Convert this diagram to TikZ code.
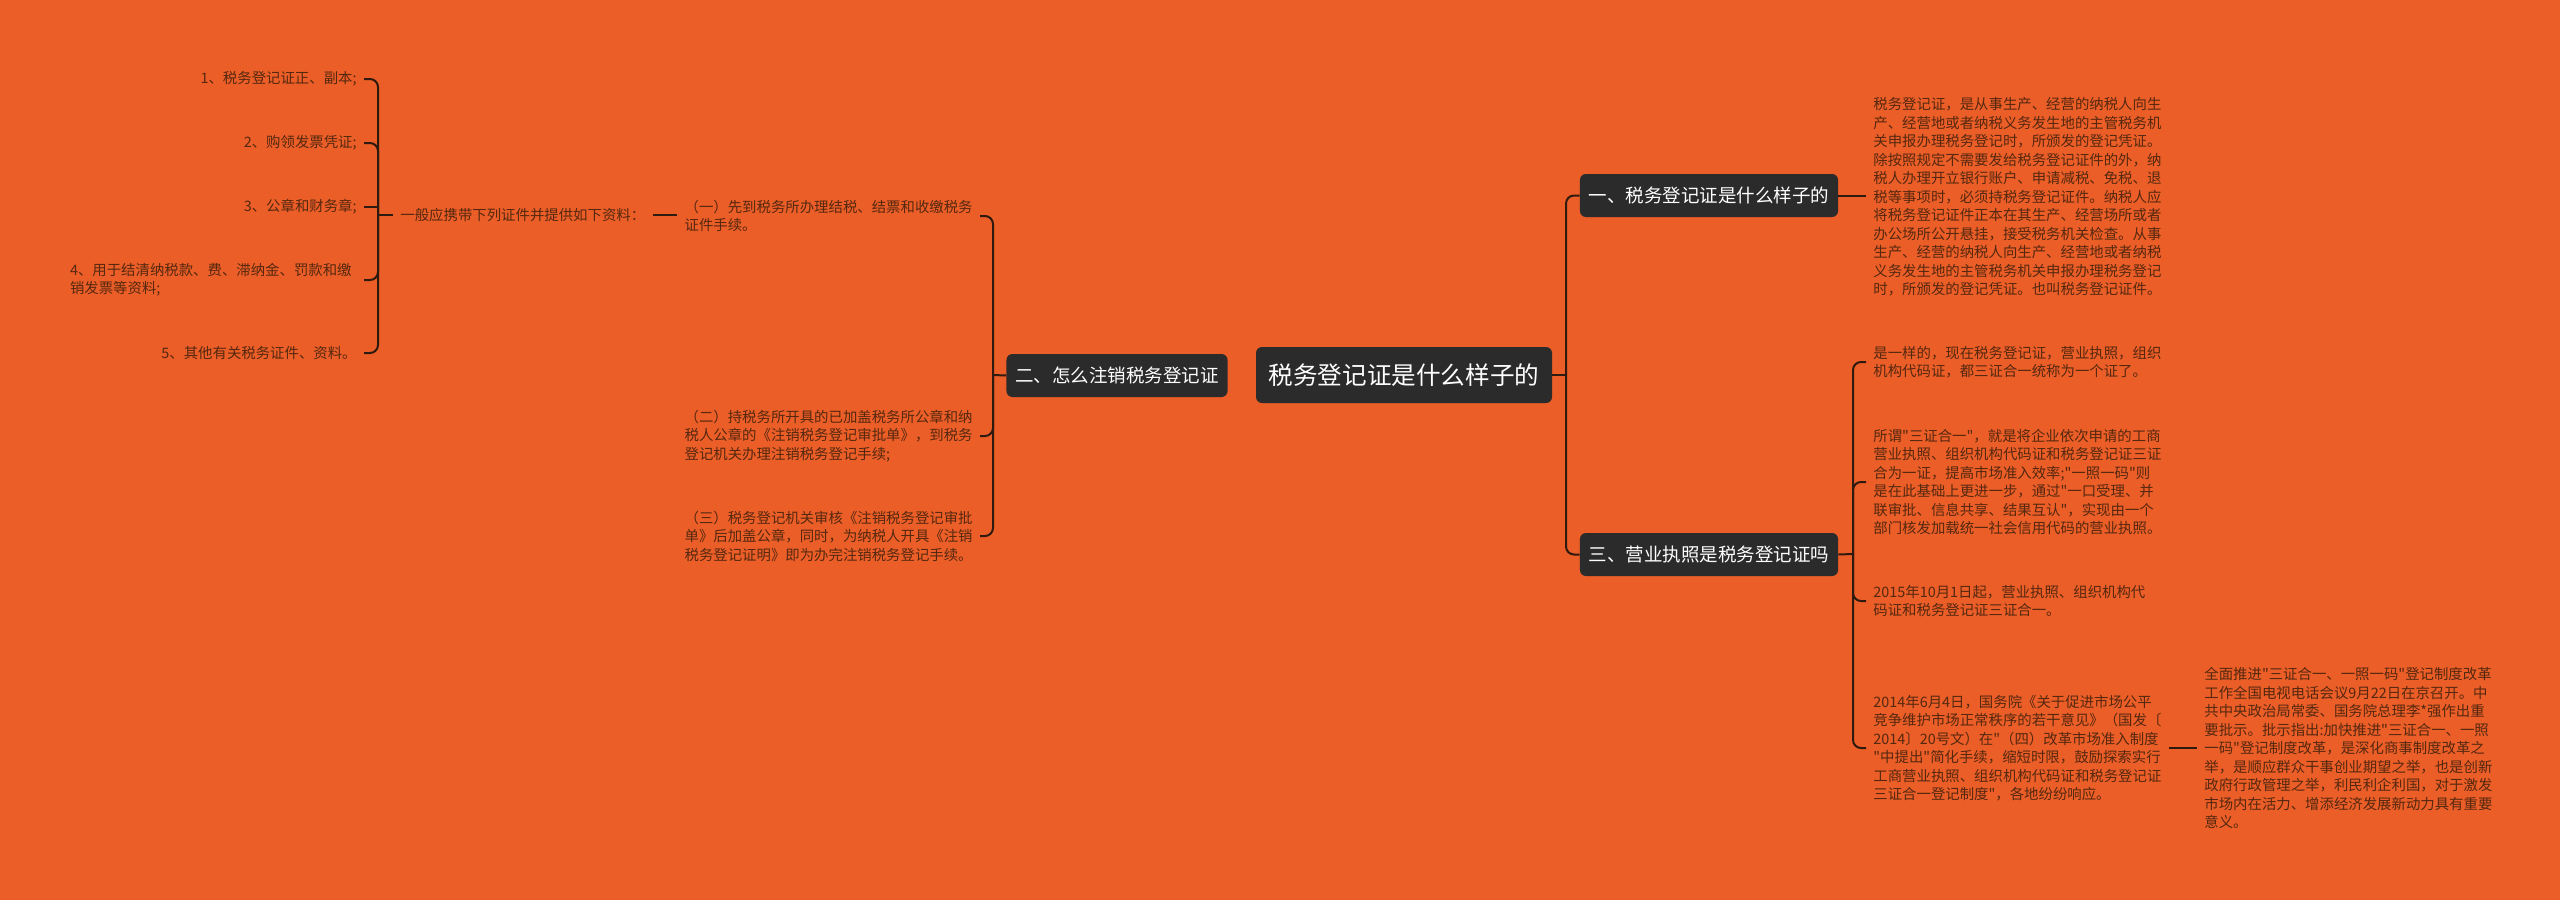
\documentclass[tikz,border=0pt]{standalone}
\usepackage{fontspec}
\newfontfamily\zhfont{Noto Sans CJK SC}
\usepackage{xcolor}

\definecolor{bgorange}{HTML}{EB5E28}
\definecolor{nodedark}{HTML}{2B2B2B}
\definecolor{linkdark}{HTML}{2E1A0E}
\definecolor{leaftext}{HTML}{55280F}

\begin{document}
\begin{tikzpicture}[
    x=0.5pt, y=-0.5pt,
    root/.style={fill=nodedark, text=white, rounded corners=3pt, minimum width=148pt, minimum height=28pt, font=\zhfont\fontsize{12.3}{14}\selectfont},
    topic/.style={fill=nodedark, text=white, rounded corners=3pt, inner xsep=4.4pt, minimum height=21.5pt, font=\zhfont\fontsize{9.25}{11}\selectfont},
    leaf/.style={text=leaftext, align=left, inner xsep=3.5pt, inner ysep=0pt, font=\zhfont\fontsize{7.2}{9.25}\selectfont},
    link/.style={draw=linkdark, line width=1pt, rounded corners=4pt},
]
    % Background
    \fill[bgorange] (0,0) rectangle (2560,900);

    % Main topics
    \node[root] (root) at (1404,375) {税务登记证是什么样子的};
    \node[topic] (one) at (1709,195.5) {一、税务登记证是什么样子的};
    \node[topic] (two) at (1117,375.5) {二、怎么注销税务登记证};
    \node[topic] (three) at (1709,554.5) {三、营业执照是税务登记证吗};

    \coordinate (rt) at (1566,375);
    \draw[link] (root.east) -- (rt);
    \draw[link] (rt) |- (one.west);
    \draw[link] (rt) |- (three.west);

    % Branch one
    \node[leaf, anchor=west] (def) at (1866,197) {税务登记证，是从事生产、经营的纳税人向生\\产、经营地或者纳税义务发生地的主管税务机\\关申报办理税务登记时，所颁发的登记凭证。\\除按照规定不需要发给税务登记证件的外，纳\\税人办理开立银行账户、申请减税、免税、退\\税等事项时，必须持税务登记证件。纳税人应\\将税务登记证件正本在其生产、经营场所或者\\办公场所公开悬挂，接受税务机关检查。从事\\生产、经营的纳税人向生产、经营地或者纳税\\义务发生地的主管税务机关申报办理税务登记\\时，所颁发的登记凭证。也叫税务登记证件。};
    \draw[link] (one.east) -- (one.east -| def.west);

    % Branch two
    \coordinate (lb) at (993,375);
    \draw[link] (two.west) -- (lb);
    \node[leaf, anchor=east] (stepa) at (980,216) {（一）先到税务所办理结税、结票和收缴税务\\证件手续。};
    \node[leaf, anchor=east] (stepb) at (980,436) {（二）持税务所开具的已加盖税务所公章和纳\\税人公章的《注销税务登记审批单》，到税务\\登记机关办理注销税务登记手续;};
    \node[leaf, anchor=east] (stepc) at (980,536) {（三）税务登记机关审核《注销税务登记审批\\单》后加盖公章，同时，为纳税人开具《注销\\税务登记证明》即为办完注销税务登记手续。};
    \foreach \s in {stepa,stepb,stepc}
        \draw[link] (lb) |- (\s.east);

    \node[leaf, anchor=west] (need) at (393,215) {一般应携带下列证件并提供如下资料：};
    \draw[link] (stepa.west |- need.east) -- (need.east);

    % Documents list
    \node[leaf, anchor=east] (doca) at (364,79) {1、税务登记证正、副本;};
    \node[leaf, anchor=east] (docb) at (364,143) {2、购领发票凭证;};
    \node[leaf, anchor=east] (docc) at (364,207) {3、公章和财务章;};
    \node[leaf, anchor=east] (docd) at (359,280) {4、用于结清纳税款、费、滞纳金、罚款和缴\\销发票等资料;};
    \node[leaf, anchor=east] (doce) at (364,353) {5、其他有关税务证件、资料。};

    \coordinate (brk) at (378,215);
    \draw[link] (need.west) -- (brk);
    \draw[link] (doca.east) -| (brk) |- (doce.east);
    \draw[link] (docb.east) -| (brk);
    \draw[link] (docd.east -| doca.east) -| (brk);
    \draw[link] (docc.east) -- (docc.east -| brk);

    % Branch three
    \coordinate (rb) at (1853,554);
    \draw[link] (three.east) -- (rb);
    \node[leaf, anchor=west] (same) at (1866,362) {是一样的，现在税务登记证，营业执照，组织\\机构代码证，都三证合一统称为一个证了。};
    \node[leaf, anchor=west] (merge) at (1866,482) {所谓"三证合一"，就是将企业依次申请的工商\\营业执照、组织机构代码证和税务登记证三证\\合为一证，提高市场准入效率;"一照一码"则\\是在此基础上更进一步，通过"一口受理、并\\联审批、信息共享、结果互认"，实现由一个\\部门核发加载统一社会信用代码的营业执照。};
    \node[leaf, anchor=west] (date) at (1866,601) {2015年10月1日起，营业执照、组织机构代\\码证和税务登记证三证合一。};
    \node[leaf, anchor=west] (policy) at (1866,748) {2014年6月4日，国务院《关于促进市场公平\\竞争维护市场正常秩序的若干意见》（国发〔\\2014〕20号文）在"（四）改革市场准入制度\\"中提出"简化手续，缩短时限，鼓励探索实行\\工商营业执照、组织机构代码证和税务登记证\\三证合一登记制度"，各地纷纷响应。};
    \foreach \t in {same,merge,date,policy}
        \draw[link] (rb) |- (\t.west);

    \node[leaf, anchor=west] (meeting) at (2197,748) {全面推进"三证合一、一照一码"登记制度改革\\工作全国电视电话会议9月22日在京召开。中\\共中央政治局常委、国务院总理李*强作出重\\要批示。批示指出:加快推进"三证合一、一照\\一码"登记制度改革，是深化商事制度改革之\\举，是顺应群众干事创业期望之举，也是创新\\政府行政管理之举，利民利企利国，对于激发\\市场内在活力、增添经济发展新动力具有重要\\意义。};
    \draw[link] (policy.east) -- (policy.east -| meeting.west);
\end{tikzpicture}
\end{document}
